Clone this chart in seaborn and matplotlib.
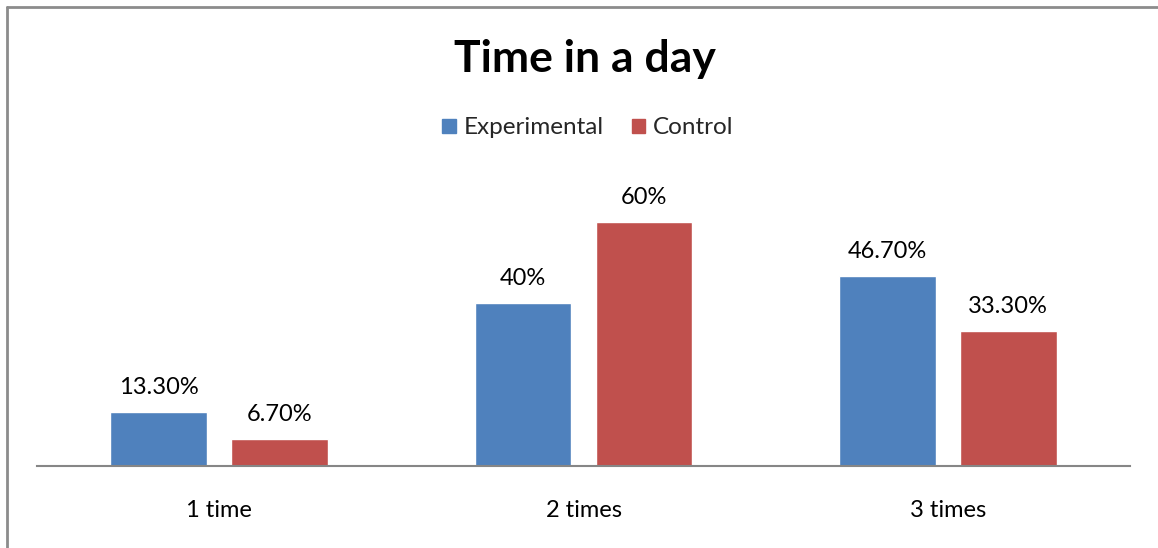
import matplotlib
matplotlib.use("Agg")
import matplotlib.pyplot as plt
import seaborn as sns
import pandas as pd
from matplotlib.lines import Line2D

categories = ["1 time", "2 times", "3 times"]
series_names = ["Experimental", "Control"]
experimental = [13.3, 40.0, 46.7]
control = [6.7, 60.0, 33.3]
colors = ["#4F81BD", "#C0504D"]
title = "Time in a day"

df = pd.DataFrame({
    "category": categories * 2,
    "group": [series_names[0]] * 3 + [series_names[1]] * 3,
    "value": experimental + control,
})

sns.set_theme(style="white")
plt.rcParams["font.family"] = ["Lato", "DejaVu Sans"]

fig = plt.figure(figsize=(11.58, 5.48), dpi=100)
ax = fig.add_axes([37 / 1158, 1 - 466 / 548, 1093 / 1158, 284.7 / 548])

sns.barplot(data=df, x="category", y="value", hue="group", order=categories,
            hue_order=series_names, palette=colors, width=0.664, gap=0.2,
            saturation=1, ax=ax, legend=False)

ax.set_ylim(0, 70)
ax.set_xlim(-0.5, 2.5)
ax.set_xlabel("")
ax.set_ylabel("")
ax.set_yticks([])
for s in ["top", "right", "left"]:
    ax.spines[s].set_visible(False)
ax.spines["bottom"].set_color("#868686")
ax.spines["bottom"].set_linewidth(1.5)
ax.tick_params(axis="x", length=0, pad=24.5, labelsize=17, colors="black")

def fmt(v):
    return f"{v:.0f}%" if float(v).is_integer() else f"{v:.2f}%"

for container in ax.containers:
    for bar in container:
        h = bar.get_height()
        ax.annotate(fmt(h), (bar.get_x() + bar.get_width() / 2, h),
                    xytext=(0, 13), textcoords="offset points",
                    ha="center", va="baseline", fontsize=17, color="black")

fig.text(585 / 1158, 1 - 72 / 548, title, ha="center", va="baseline",
         fontsize=32, fontweight="bold", color="black")

handles = [plt.Rectangle((0, 0), 1, 1, color=c) for c in colors]
fig.legend(handles, series_names, loc="center", bbox_to_anchor=(588 / 1158, 1 - 128 / 548),
           ncol=2, frameon=False, fontsize=17.5, handlelength=0.55, handleheight=0.55,
           handletextpad=0.33, columnspacing=1.15)

# chart frame on the top and left edges
fig.add_artist(Line2D([6.5 / 1158, 6.5 / 1158], [0, 1 - 6.5 / 548],
                      transform=fig.transFigure, color="#8C8C8C", lw=2))
fig.add_artist(Line2D([6.5 / 1158, 1], [1 - 6.5 / 548, 1 - 6.5 / 548],
                      transform=fig.transFigure, color="#8C8C8C", lw=2))

fig.savefig("out.png", dpi=100, facecolor="white")
